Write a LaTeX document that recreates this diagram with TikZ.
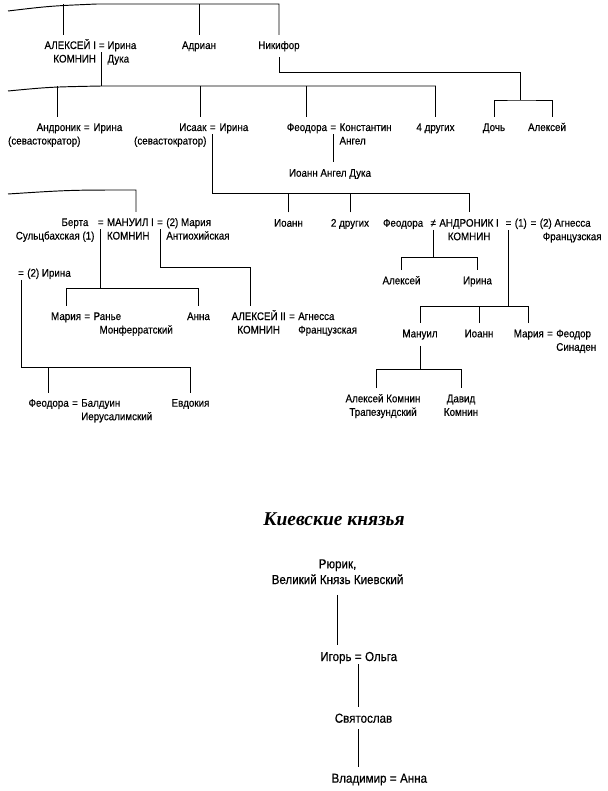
\documentclass[tikz,border=0pt]{standalone}
\usepackage{fontspec}
\setmainfont{Liberation Sans}[FakeStretch=0.89,FakeBold=0.4]
\newfontfamily\titlefont{Liberation Serif}
\usetikzlibrary{positioning}
\newcommand{\rblock}[1]{\begin{tabular}[t]{@{}r@{}}#1\end{tabular}}
\newcommand{\lblock}[1]{\begin{tabular}[t]{@{}l@{}}#1\end{tabular}}
\newcommand{\cblock}[1]{\begin{tabular}[t]{@{}c@{}}#1\end{tabular}}
\tikzstyle{person} = [inner xsep=0pt,inner ysep=6pt,text height=8pt,
  font=\fontsize{11}{13.5}\selectfont]
\tikzstyle{lpart} = [person,anchor=base east]
\tikzstyle{rpart} = [person,anchor=base west]
\tikzstyle{single} = [person,anchor=base]
\tikzstyle{marriage} = [inner xsep=0pt,inner ysep=3pt,text height=5pt,
  text depth=0pt,anchor=base,font=\fontsize{11}{13.5}\selectfont]
\tikzstyle{kiev} = [font=\fontsize{13}{15.7}\selectfont,text height=9.5pt]
\tikzstyle{treeline} = [line width=0.95pt]
\begin{document}
\begin{tikzpicture}[x=1pt,y=-1pt]
    \useasboundingbox (0,0) rectangle (607,791);
    \node [marriage] (eqA) at (101.7,49) {=};
    \node [lpart] (alex1) at ([xshift=-2.5pt]eqA.base west) {\rblock{АЛЕКСЕЙ I\\КОМНИН}};
    \node [rpart] (irina1) at ([xshift=2.5pt]eqA.base east) {\lblock{Ирина\\Дука}};
    \node [single] (adrian) at (199,49) {Адриан};
    \node [single] (nikifor) at (279,49) {Никифор};
    \coordinate (top-l) at (8,11);
    \coordinate (top-m) at (97,4);
    \coordinate (alex1-t) at ([xshift=-7pt]alex1.north);
    \draw [treeline] (top-l) .. controls (50,6) .. (top-m) -| (nikifor.north);
    \draw [treeline] (alex1-t) -- (alex1-t |- top-m);
    \draw [treeline] (adrian.north) -- (adrian.north |- top-m);

    \node [marriage] (eqAn) at (86.7,131) {=};
    \node [lpart] (andr) at ([xshift=-3pt]eqAn.base west) {\rblock{Андроник\\(севастократор)}};
    \node [rpart] (irina2) at ([xshift=3.5pt]eqAn.base east) {Ирина};
    \node [marriage] (eqIs) at (212.7,131) {=};
    \node [lpart] (isaak) at ([xshift=-3pt]eqIs.base west) {\rblock{Исаак\\(севастократор)}};
    \node [rpart] (irina3) at ([xshift=3.5pt]eqIs.base east) {Ирина};
    \node [marriage] (eqFe) at (333.3,131) {=};
    \node [lpart] (feod1) at ([xshift=-3pt]eqFe.base west) {Феодора};
    \node [rpart] (konst) at ([xshift=3pt]eqFe.base east) {\lblock{Константин\\Ангел}};
    \node [single] (others4) at (435.5,131) {4 других};
    \node [single] (doch) at (494,131) {Дочь};
    \node [single] (aleks1) at (547,131) {Алексей};
    \coordinate (mid-l) at (8,91);
    \coordinate (mid-m) at (eqA.south |- 0,86);
    \coordinate (andr-t) at ([xshift=-23pt]andr.north east);
    \coordinate (isaak-t) at ([xshift=-6pt]isaak.north east);
    \draw [treeline] (eqA.south) -- (mid-m);
    \draw [treeline] (mid-l) .. controls (50,87) .. (mid-m) -| (others4.north);
    \draw [treeline] (andr-t) -- (andr-t |- mid-m);
    \draw [treeline] (isaak-t) -- (isaak-t |- mid-m);
    \draw [treeline] (feod1.north) -- (feod1.north |- mid-m);
    \coordinate (nk-j) at (520,72);
    \coordinate (nk-b) at (520,100);
    \draw [treeline] (nikifor.south) |- (nk-j) -- (nk-b);
    \draw [treeline] (doch.north) |- (nk-b) -| ([xshift=5pt]aleks1.north);

    \node [single] (ioannAD) at (330,176.7) {Иоанн Ангел Дука};
    \draw [treeline] (eqFe.south) -- (eqFe.south |- ioannAD.north);

    \node [single] (ioann1) at (288.5,226.7) {Иоанн};
    \node [single] (others2) at (350,226.7) {2 других};
    \node [marriage] (neq) at (433.3,226.7) {≠};
    \node [lpart] (feod2) at ([xshift=-7pt]neq.base west) {Феодора};
    \node [rpart] (andrI) at ([xshift=3pt]neq.base east) {\cblock{АНДРОНИК I\\КОМНИН}};
    \node [marriage,anchor=base west] (eqAI1) at ([xshift=6.5pt]andrI.base east) {=};
    \node [person,anchor=base west] (one) at ([xshift=3pt]eqAI1.base east) {(1)};
    \node [marriage,anchor=base west] (eqAI2) at ([xshift=3.5pt]one.base east) {=};
    \node [rpart] (agn1) at ([xshift=3pt]eqAI2.base east) {\lblock{(2) Агнесса\\\hspace*{3pt}Французская}};
    \coordinate (low-b) at (0,193);
    \draw [treeline] (eqIs.south) |- (low-b -| andrI.north) -- (andrI.north);
    \draw [treeline] (ioann1.north) -- (ioann1.north |- low-b);
    \draw [treeline] (others2.north) -- (others2.north |- low-b);

    \node [marriage] (eqMB) at (100.7,226) {=};
    \node [lpart] (berta) at ([xshift=-3pt]eqMB.base west) {\rblock{Берта\hspace*{6pt}\\Сульцбахская (1)}};
    \node [rpart] (manuel) at ([xshift=3pt]eqMB.base east) {\lblock{МАНУИЛ I\\КОМНИН}};
    \node [marriage,anchor=base west] (eqMM) at ([xshift=3pt]manuel.base east) {=};
    \node [rpart] (mariaA) at ([xshift=3pt]eqMM.base east) {\lblock{(2) Мария\\Антиохийская}};
    \coordinate (left-l) at (8,194);
    \coordinate (left-r) at (136,190);
    \draw [treeline] (left-l) .. controls (70,190) .. (left-r) -- (left-r |- manuel.north);

    \node [marriage] (eqIr) at (21,276.7) {=};
    \node [rpart] (irina4) at ([xshift=3pt]eqIr.base east) {(2) Ирина};

    \node [marriage] (eqMR) at (87.3,320) {=};
    \node [lpart] (maria1) at ([xshift=-3pt]eqMR.base west) {Мария};
    \node [rpart] (rene) at ([xshift=3pt]eqMR.base east) {\lblock{Ранье\\\hspace*{6pt}Монферратский}};
    \node [single] (anna1) at (198.5,320) {Анна};
    \node [marriage] (eqAA) at (292,320) {=};
    \node [lpart] (alex2) at ([xshift=-3pt]eqAA.base west) {\cblock{АЛЕКСЕЙ II\\КОМНИН}};
    \node [rpart] (agn2) at ([xshift=3pt]eqAA.base east) {\lblock{Агнесса\\Французская}};
    \coordinate (manuel-b) at (0,288);
    \coordinate (maria-b) at (0,267);
    \coordinate (alex2-t) at ([xshift=-8pt]alex2.north);
    \draw [treeline] (eqMB.south) -- (eqMB.south |- manuel-b);
    \draw [treeline] (maria1.north) |- (manuel-b -| anna1.north) -- (anna1.north);
    \draw [treeline] (eqMM.south) |- (maria-b -| alex2-t) -- (alex2-t);

    \node [marriage] (eqFB) at (75,406.7) {=};
    \node [lpart] (feod3) at ([xshift=-3pt]eqFB.base west) {Феодора};
    \node [rpart] (baldwin) at ([xshift=3pt]eqFB.base east) {\lblock{Балдуин\\Иерусалимский}};
    \node [single] (evdokia) at (190.5,406.7) {Евдокия};
    \coordinate (irina-b) at (0,367);
    \draw [treeline] (eqIr.south) |- (irina-b -| evdokia.north) -- (evdokia.north);
    \draw [treeline] (feod3.north) -- (feod3.north |- irina-b);

    \node [single] (aleks2) at (401.5,284.3) {Алексей};
    \node [single] (irina5) at (477.5,284.3) {Ирина};
    \coordinate (feod-b) at (0,257);
    \draw [treeline] (neq.south) -- (neq.south |- feod-b);
    \draw [treeline] (aleks2.north) |- (feod-b -| irina5.north) -- (irina5.north);

    \node [single] (manuel2) at (420,337.3) {Мануил};
    \node [single] (ioann2) at (479,337.3) {Иоанн};
    \node [marriage] (eqMF) at (550,337.3) {=};
    \node [lpart] (maria2) at ([xshift=-3pt]eqMF.base west) {Мария};
    \node [rpart] (feodor) at ([xshift=3pt]eqMF.base east) {\lblock{Феодор\\Синаден}};
    \coordinate (agn-b) at (0,306);
    \draw [treeline] (eqAI1.south) |- (agn-b -| manuel2.north) -- (manuel2.north);
    \draw [treeline] (ioann2.north) -- (ioann2.north |- agn-b);
    \draw [treeline] (maria2.north) |- (agn-b -| eqAI1.south);

    \node [single] (alexK) at (383,402.3) {\cblock{Алексей Комнин\\Трапезундский}};
    \node [single] (david) at (461,402.3) {\cblock{Давид\\Комнин}};
    \coordinate (manuel2-b) at (0,369);
    \coordinate (alexK-t) at ([xshift=-7pt]alexK.north);
    \draw [treeline] (manuel2.south) -- (manuel2.south |- manuel2-b);
    \draw [treeline] (alexK-t) |- (manuel2-b -| david.north) -- (david.north);

    \node [anchor=base,font=\titlefont\bfseries\itshape\fontsize{19.5}{22}\selectfont]
      (title) at (334,525) {Киевские князья};
    \node [single,kiev] (ruryk) at (337.5,568.3) {\cblock{Рюрик,\\Великий Князь Киевский}};
    \node [marriage,kiev,text height=6pt] (eqIO) at (358.3,661) {=};
    \node [lpart,kiev] (igor) at ([xshift=-3pt]eqIO.base west) {Игорь};
    \node [rpart,kiev] (olga) at ([xshift=3pt]eqIO.base east) {Ольга};
    \node [single,kiev] (svyat) at (363.5,722.7) {Святослав};
    \node [marriage,kiev,text height=6pt] (eqVA) at (393.3,782.7) {=};
    \node [lpart,kiev] (vlad) at ([xshift=-3pt]eqVA.base west) {Владимир};
    \node [rpart,kiev] (anna2) at ([xshift=3pt]eqVA.base east) {Анна};
    \draw [treeline] (ruryk.south) -- (ruryk.south |- igor.north);
    \draw [treeline] (eqIO.south) -- (eqIO.south |- svyat.north);
    \draw [treeline] (svyat.south -| eqIO.south) -- (eqIO.south |- vlad.north);
\end{tikzpicture}
\end{document}
